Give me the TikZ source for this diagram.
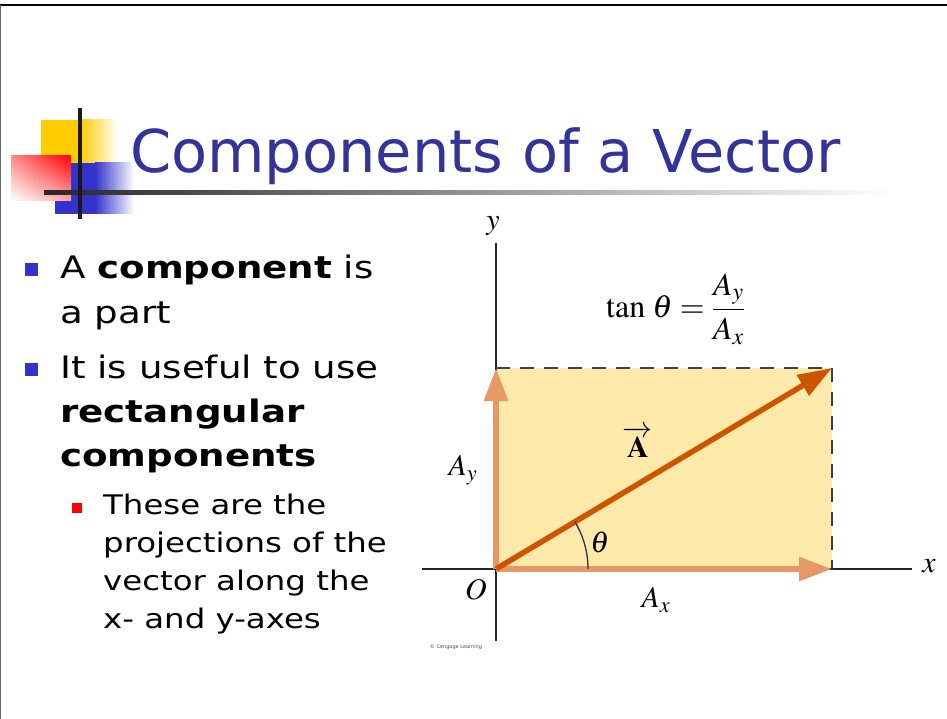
\documentclass[tikz,border=0pt]{standalone}
\usepackage{mathptmx}
\usepackage[no-math]{fontspec}
\newfontfamily\slidefont{DejaVu Sans}
\newfontfamily\bodyfont[FakeStretch=1.2]{DejaVu Sans}
\usetikzlibrary{arrows.meta, shadings}
\definecolor{titleblue}{RGB}{51,51,153}
\definecolor{bulletblue}{RGB}{51,51,204}
\definecolor{logoyellow}{RGB}{255,204,0}
\definecolor{rectfill}{RGB}{253,233,170}
\definecolor{compcol}{RGB}{230,152,102}
\definecolor{vectorcol}{RGB}{204,85,0}

\begin{document}
\begin{tikzpicture}[x=1pt, y=-1pt,
    slide/.style={anchor=base west, inner sep=0pt, font=\bodyfont\fontsize{31}{37}\selectfont},
    subslide/.style={anchor=base west, inner sep=0pt, font=\bodyfont\fontsize{27}{32}\selectfont},
    lbl/.style={font=\fontsize{30}{36}\selectfont, inner sep=0pt},
    axisline/.style={line width=2.4pt, black!85},
    comp/.style={line width=6pt, compcol, -{Triangle[length=33pt,width=23pt]}},
    vecarr/.style={line width=5.5pt, vectorcol, -{Triangle[length=34pt,width=23pt]}},
    guide/.style={line width=1.6pt, black!75, dash pattern=on 14pt off 10pt}
]
    \useasboundingbox (0,0) rectangle (947,719);

    % Slide frame
    \draw[line width=2.5pt] (0,5) -- (947,5);
    \draw[line width=1.2pt, black!60] (0.6,5) -- (0.6,719);

    % Logo
    \fill[logoyellow] (41,120) rectangle (81,163);
    \shade[left color=logoyellow, right color=white] (80,120) rectangle (118,163);
    \fill[bulletblue] (55,163) rectangle (96,214);
    \shade[left color=bulletblue, right color=white] (95,163) rectangle (134,214);
    \shade[upper left=red!45!white, upper right=red, lower left=white, lower right=red!35!white] (11,156) rectangle (71,201);
    \shade[left color=black!85, right color=white] (44,191) rectangle (893,195);
    \draw[line width=4pt, black!90] (80,108) -- (80,219);

    % Title
    \node[anchor=base west, inner sep=0pt, text=titleblue, font=\slidefont\fontsize{59}{70}\selectfont] (title) at (130,173) {Components of a Vector};

    % Bullets
    \fill[bulletblue] (25,263) rectangle (38,276);
    \node[slide] (b1a) at (60,278) {A \textbf{component} is};
    \node[slide] (b1b) at (60,323) {a part};
    \fill[bulletblue] (25,363) rectangle (38,376);
    \node[slide] (b2a) at (60,378) {It is useful to use};
    \node[slide] (b2b) at (60,422) {\textbf{rectangular}};
    \node[slide] (b2c) at (60,466) {\textbf{components}};
    \fill[red] (72,503) rectangle (82,513);
    \node[subslide] (s1a) at (103,514) {These are the};
    \node[subslide] (s1b) at (103,552) {projections of the};
    \node[subslide] (s1c) at (103,590) {vector along the};
    \node[subslide] (s1d) at (103,628) {x- and y-axes};

    % Diagram points
    \coordinate (O) at (496,569);
    \coordinate (P) at (832,368);
    \coordinate (Px) at (832,569);
    \coordinate (Py) at (496,368);
    \coordinate (xl) at (422,569);
    \coordinate (xr) at (912,569);
    \coordinate (yt) at (496,243);
    \coordinate (yb) at (496,641);

    % Component rectangle
    \fill[rectfill] (O) rectangle (P);
    \draw[axisline] (xl) -- (xr);
    \draw[axisline] (yb) -- (yt);
    \draw[guide] (Py) -- (P) -- (Px);

    % Components and vector
    \draw[comp] (O) -- (Px);
    \draw[comp] (O) -- (Py);
    \draw[vecarr] (O) -- (P);
    \draw[line width=1.3pt, black!80] (588,569) arc[start angle=0, end angle=-30.9, radius=92];

    % Labels
    \node[lbl] (ylab) at (493,226) {$y$};
    \node[lbl] (xlab) at (929,566) {$x$};
    \node[lbl] (olab) at (476,590) {$O$};
    \node[lbl] (aylab) at (463,470) {$A_y$};
    \node[lbl] (axlab) at (656,600) {$A_x$};
    \node[lbl] (alab) at (638,442) {$\overrightarrow{\mathbf{A}}$};
    \node[lbl] (thlab) at (600,542) {$\theta$};
    \node[lbl, anchor=west, font=\fontsize{32}{38}\selectfont] (tanlab) at (606,309) {$\displaystyle\tan\,\theta = \frac{A_y}{A_x}$};
    \node[font=\slidefont\fontsize{5}{6}\selectfont, text=black!70] (credit) at (456,647) {\textcopyright{} Cengage Learning};
\end{tikzpicture}
\end{document}
